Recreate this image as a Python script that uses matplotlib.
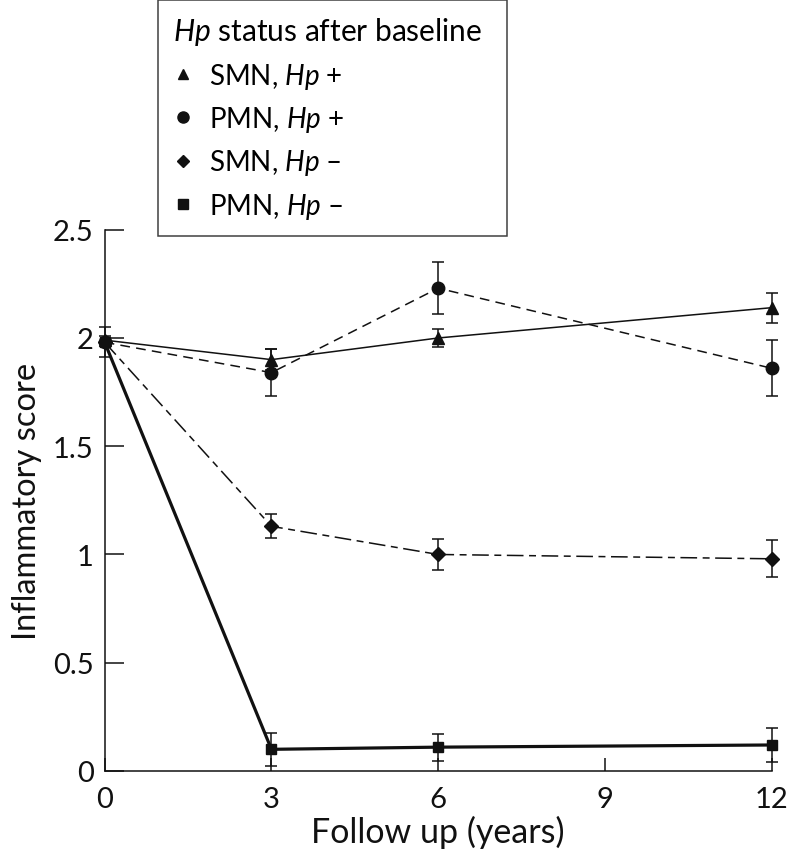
import matplotlib
matplotlib.use("Agg")
import matplotlib.pyplot as plt
from matplotlib.lines import Line2D

plt.rcParams['font.family'] = ['Lato', 'DejaVu Sans']
plt.rcParams['mathtext.fontset'] = 'custom'
plt.rcParams['mathtext.rm'] = 'Lato'
plt.rcParams['mathtext.it'] = 'Lato:italic'
plt.rcParams['lines.scale_dashes'] = False

# follow-up times (years)
years = [0, 3, 6, 9, 12]
t = [0, 3, 6, 12]

# mean inflammatory score and error per group
smn_pos = [1.99, 1.90, 2.00, 2.14]
smn_pos_err = [0.02, 0.05, 0.04, 0.07]
pmn_pos = [1.98, 1.84, 2.23, 1.86]
pmn_pos_err = [0.07, 0.11, 0.12, 0.13]
smn_neg = [1.98, 1.13, 1.00, 0.98]
smn_neg_err = [0.00, 0.055, 0.07, 0.085]
pmn_neg = [1.98, 0.10, 0.11, 0.12]
pmn_neg_err = [0.00, 0.075, 0.063, 0.08]

labels = ["SMN, $\\it{Hp}$ +", "PMN, $\\it{Hp}$ +",
          "SMN, $\\it{Hp}$ \u2013", "PMN, $\\it{Hp}$ \u2013"]

fig = plt.figure(figsize=(7.87, 8.53), dpi=100)
ax = fig.add_axes([0.133, 0.095, 0.8476, 0.6345])

ink = "#111111"
err_kw = dict(ecolor=ink, elinewidth=1.1, capsize=4, capthick=1.1)

# PMN Hp- : thick solid, squares
ax.errorbar(t, pmn_neg, yerr=pmn_neg_err, color=ink, lw=2.3, marker='s',
            ms=7.5, clip_on=False, zorder=3, **err_kw)
# SMN Hp- : dash-dot, diamonds
l, _, _ = ax.errorbar(t, smn_neg, yerr=smn_neg_err, color=ink, lw=1.1, marker='D',
                      ms=7, clip_on=False, zorder=3, **err_kw)
l.set_dashes((12, 4, 5, 4))
# PMN Hp+ : dashed, circles
l, _, _ = ax.errorbar(t, pmn_pos, yerr=pmn_pos_err, color=ink, lw=1.1, marker='o',
                      ms=9, clip_on=False, zorder=3, **err_kw)
l.set_dashes((7, 4.5))
# SMN Hp+ : solid, triangles
ax.errorbar(t, smn_pos, yerr=smn_pos_err, color=ink, lw=1.1, marker='^',
            ms=8.5, clip_on=False, zorder=4, **err_kw)

ax.set_xlim(0, 12)
ax.set_ylim(0, 2.5)
ax.set_xticks(years)
ax.set_yticks([0, 0.5, 1, 1.5, 2, 2.5])
ax.set_yticklabels(["0", "0.5", "1", "1.5", "2", "2.5"])
for s in ['top', 'right']:
    ax.spines[s].set_visible(False)
for s in ['left', 'bottom']:
    ax.spines[s].set_linewidth(1.1)
    ax.spines[s].set_color(ink)
ax.tick_params(axis='y', direction='in', length=13.5, width=1.1, pad=8,
               labelsize=21, colors=ink)
ax.tick_params(axis='x', direction='in', length=9.5, width=1.1, pad=11,
               labelsize=21, colors=ink)

ax.set_xlabel("Follow up (years)", fontsize=24.5, color=ink, labelpad=2)
ax.set_ylabel("Inflammatory score", fontsize=23.5, color=ink, labelpad=8)

markers = ['^', 'o', 'D', 's']
sizes = [7.5, 8, 6.5, 7]
handles = [Line2D([], [], ls='none', marker=m, ms=s, color=ink)
           for m, s in zip(markers, sizes)]
leg = fig.legend(handles, labels, loc='upper left',
                 bbox_to_anchor=(158 / 787, 1 - 1 / 853),
                 title="$\\it{Hp}$ status after baseline  ",
                 fontsize=20, title_fontsize=21.5, alignment='left',
                 frameon=True, fancybox=False, edgecolor=ink,
                 handlelength=0.7, handletextpad=0.6, labelspacing=0.48,
                 borderpad=0.55, borderaxespad=0)
leg.get_frame().set_linewidth(1.1)

fig.savefig("out.png", dpi=100)
